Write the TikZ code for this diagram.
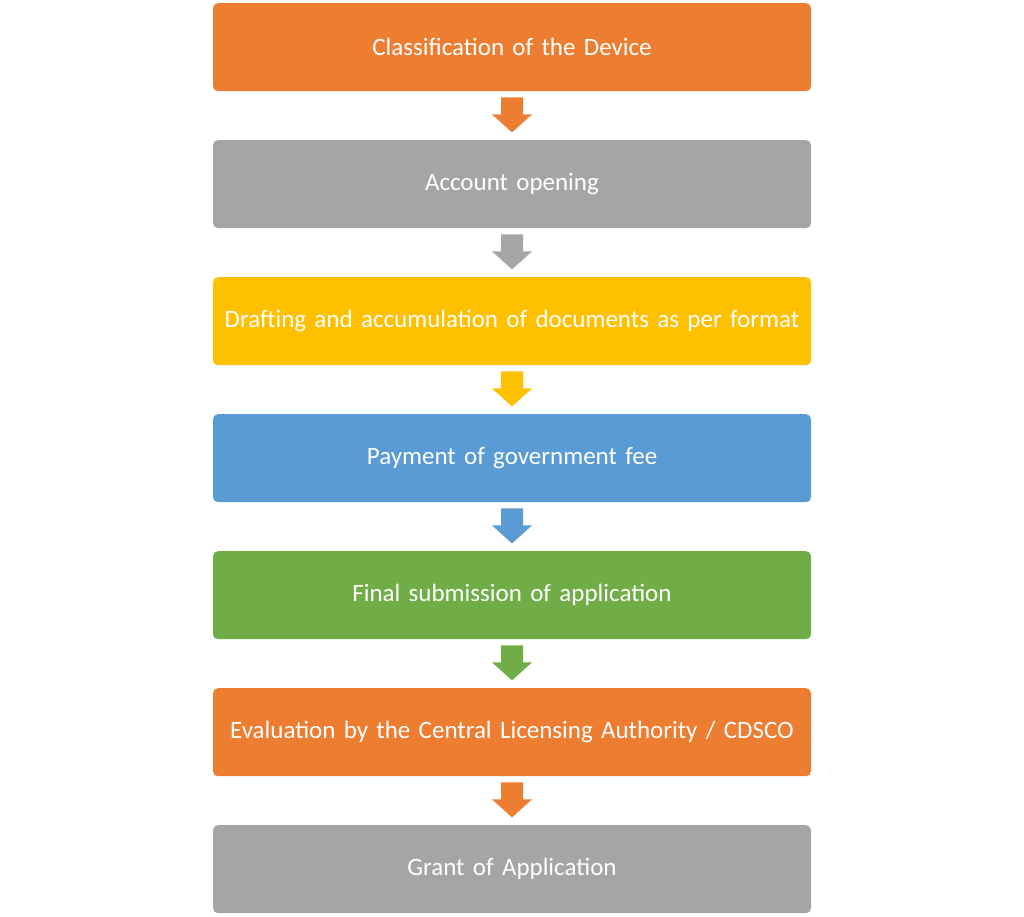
\documentclass[tikz,border=0pt]{standalone}
\usepackage{fontspec}
\setmainfont{Carlito}
\usetikzlibrary{calc}
\definecolor{cor}{HTML}{ED7D31}
\definecolor{cgr}{HTML}{A5A5A5}
\definecolor{cye}{HTML}{FFC000}
\definecolor{cbl}{HTML}{5B9BD5}
\definecolor{cgn}{HTML}{70AD47}
\begin{document}
\begin{tikzpicture}[x=1pt,y=-1pt,
  stepbox/.style={rounded corners=5pt,minimum width=598pt,minimum height=88pt,text width=580pt,align=center,text=white,font=\fontsize{25}{33}\selectfont,inner sep=0pt,anchor=north}]
\useasboundingbox (0,0) rectangle (1024,917);
\def\names{a,b,c,d,e,f,g}
\node[stepbox,fill=cor] (a) at (512,3) {Classification of the Device};
\node[stepbox,fill=cgr] (b) at (512,140) {Account opening};
\node[stepbox,fill=cye] (c) at (512,277) {Drafting and accumulation of documents as per format};
\node[stepbox,fill=cbl] (d) at (512,414) {Payment of government fee};
\node[stepbox,fill=cgn] (e) at (512,551) {Final submission of application};
\node[stepbox,fill=cor] (f) at (512,688) {Evaluation by the Central Licensing Authority / CDSCO};
\node[stepbox,fill=cgr] (g) at (512,825) {Grant of Application};
\foreach \p/\c in {a/cor,b/cgr,c/cye,d/cbl,e/cgn,f/cor}{
  \fill[\c] ($(\p.south)+(-11,6)$) -- ($(\p.south)+(11,6)$) -- ($(\p.south)+(11,23)$) -- ($(\p.south)+(20,23)$) -- ($(\p.south)+(0,41)$) -- ($(\p.south)+(-20,23)$) -- ($(\p.south)+(-11,23)$) -- cycle;
}
\end{tikzpicture}
\end{document}
